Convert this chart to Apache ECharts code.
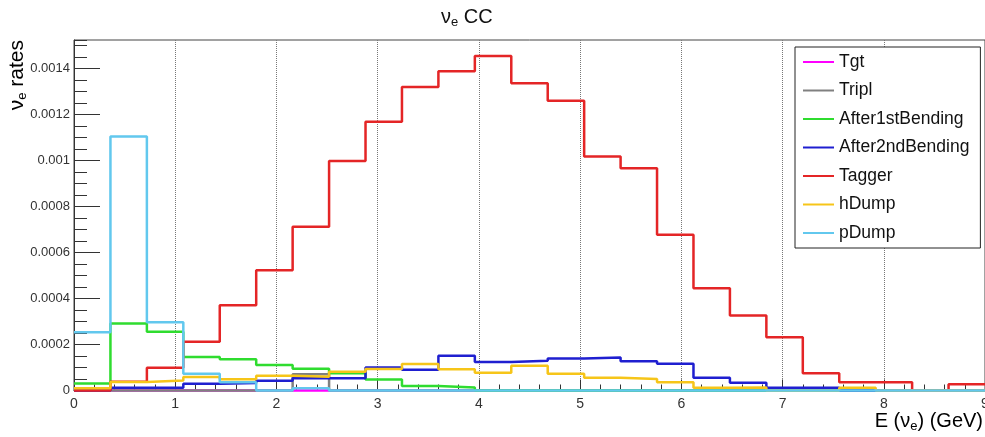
<!DOCTYPE html>
<html>
<head>
<meta charset="utf-8">
<script src="https://cdn.jsdelivr.net/npm/echarts@6/dist/echarts.min.js"></script>
<style>
  html, body { margin: 0; padding: 0; background: #fff; }
  #chart { width: 985px; height: 437px; }
</style>
</head>
<body>
<div id="chart"></div>
<script>
// Histogram binning: 25 bins of 0.36 GeV from 0 to 9 GeV
const binEdges = [0, 0.36, 0.72, 1.08, 1.44, 1.8, 2.16, 2.52, 2.88, 3.24, 3.6, 3.96, 4.32,
                  4.68, 5.04, 5.4, 5.76, 6.12, 6.48, 6.84, 7.2, 7.56, 7.92, 8.28, 8.64, 9.0];

const xTickLabels = ['0', '1', '2', '3', '4', '5', '6', '7', '8', '9'];
const yTickLabels = ['0', '0.0002', '0.0004', '0.0006', '0.0008', '0.001', '0.0012', '0.0014'];

const seriesNames = ['Tgt', 'Tripl', 'After1stBending', 'After2ndBending', 'Tagger', 'hDump', 'pDump'];
const seriesColors = ['#ff00ff', '#808080', '#2fdc2f', '#1f1fd0', '#e42526', '#f6c519', '#62c8ee'];

// nu_e CC rates per bin
const tgt = [0, 0, 0, 0, 0, 0, 0, 0, 0, 0, 0, 0, 0, 0, 0, 0, 0, 0, 0, 0, 0, 0, 0, 0, 0];
const tripl = [0, 0, 0, 0, 0, 0, 0.000071, 0, 0, 0, 0, 0, 0, 0, 0, 0, 0, 0, 0, 0, 0, 0, 0, 0, 0];
const after1stBending = [0.000031, 0.000292, 0.000256, 0.000146, 0.000136, 0.000111, 0.000095,
                         0.000075, 0.000048, 0.00002, 0.000013, 0, 0, 0, 0, 0, 0, 0, 0, 0, 0, 0, 0, 0, 0];
const after2ndBending = [0, 0.000012, 0.000012, 0.000029, 0.000033, 0.000042, 0.000053, 0.000053,
                         0.0001, 0.00009, 0.000151, 0.000124, 0.000129, 0.000139, 0.000144, 0.000127,
                         0.000116, 0.000056, 0.000034, 0.000012, 0.000012, 0, 0, 0, 0];
const tagger = [0, 0.000038, 0.000099, 0.000212, 0.000371, 0.000523, 0.000713, 0.000999, 0.001169,
                0.001321, 0.001389, 0.001455, 0.001337, 0.001261, 0.001018, 0.000967, 0.000678,
                0.000445, 0.000326, 0.000232, 0.000075, 0.000036, 0.000036, 0, 0.000027];
const hDump = [0.00001, 0.000037, 0.000043, 0.000059, 0.000049, 0.000064, 0.00006, 0.000082, 0.000094,
               0.000115, 0.000092, 0.000077, 0.000108, 0.000073, 0.000055, 0.00005, 0.000036, 0.000012,
               0.000013, 0, 0, 0.000012, 0, 0, 0];
const pDump = [0.000253, 0.001105, 0.000297, 0.000073, 0.000036, 0, 0.00001, 0, 0, 0, 0, 0, 0, 0, 0,
               0, 0, 0, 0, 0, 0, 0, 0, 0, 0];

const seriesValues = [tgt, tripl, after1stBending, after2ndBending, tagger, hDump, pDump];

const Y_MAX = 0.001525;
const FONT = 'Liberation Sans, Arial, Helvetica, sans-serif';

// step outline: one point per lower bin edge plus the closing upper edge
function histPoints(values) {
  const pts = values.map((v, i) => [binEdges[i], v]);
  pts.push([binEdges[binEdges.length - 1], values[values.length - 1]]);
  return pts;
}

const subRich = {
  n: { fontSize: 20, fontFamily: FONT, fontWeight: 'normal', color: '#111', lineHeight: 24 },
  s: { fontSize: 13, fontFamily: FONT, fontWeight: 'normal', color: '#111', lineHeight: 24, padding: [10, 0, 0, 0] }
};

const chart = echarts.init(document.getElementById('chart'), null, { renderer: 'canvas' });

chart.setOption({
  animation: false,
  backgroundColor: '#fff',
  textStyle: { fontFamily: FONT },
  title: {
    text: '{n|ν}{s|e}{n| CC}',
    left: 436,
    top: 0,
    textStyle: { fontWeight: 'normal', rich: subRich }
  },
  grid: {
    left: 74, right: 0, top: 40, bottom: 46.5,
    outerBoundsMode: 'none',
    containLabel: false,
    show: true, borderColor: '#444', borderWidth: 1, backgroundColor: 'transparent'
  },
  legend: {
    orient: 'vertical',
    left: 795,
    top: 47,
    icon: 'rect',
    itemWidth: 31,
    itemHeight: 2,
    itemGap: 8.5,
    padding: [5, 11, 5, 8],
    backgroundColor: '#fff',
    borderColor: '#222',
    borderWidth: 1,
    selectedMode: false,
    textStyle: { fontSize: 17.5, fontFamily: FONT, color: '#111', lineHeight: 20 },
    data: seriesNames
  },
  xAxis: {
    type: 'value',
    min: 0,
    max: 9,
    interval: 1,
    axisLine: { show: true, lineStyle: { color: '#333', width: 1 } },
    axisTick: { show: true, inside: true, length: 11, lineStyle: { color: '#333', width: 1 } },
    minorTick: { show: true, splitNumber: 5, length: 6, lineStyle: { color: '#333', width: 1 } },
    axisLabel: { fontSize: 14, color: '#333', margin: 7, formatter: v => xTickLabels[Math.round(v)] },
    splitLine: { show: true, lineStyle: { type: 'dotted', color: '#777', width: 1 } },
    minorSplitLine: { show: false }
  },
  yAxis: [
    {
      type: 'value',
      position: 'left',
      min: 0,
      max: Y_MAX,
      interval: 0.0002,
      axisLine: { show: true, lineStyle: { color: '#333', width: 1 } },
      axisTick: { show: true, inside: true, length: 26, lineStyle: { color: '#333', width: 1 } },
      axisLabel: {
        show: true, showMaxLabel: false, margin: 4, fontSize: 13, color: '#333',
        formatter: v => yTickLabels[Math.round(v / 0.0002)] ?? ''
      },
      splitLine: { show: false }
    },
    {
      // fine subdivisions of the rate axis
      type: 'value',
      position: 'left',
      min: 0,
      max: Y_MAX,
      interval: 0.00005,
      axisLine: { show: false },
      axisTick: { show: true, inside: true, length: 13, lineStyle: { color: '#333', width: 1 } },
      axisLabel: { show: false },
      splitLine: { show: false }
    }
  ],
  graphic: [
    {
      type: 'text',
      right: 2,
      top: 410,
      style: { text: '{n|E (ν}{s|e}{n|) (GeV)}', rich: subRich }
    },
    {
      type: 'text',
      x: 17,
      y: 40,
      rotation: Math.PI / 2,
      style: {
        text: '{n|ν}{s|e}{n| rates}',
        align: 'right',
        verticalAlign: 'middle',
        rich: {
          n: { fontSize: 21, fontFamily: FONT, color: '#111', lineHeight: 24 },
          s: { fontSize: 13, fontFamily: FONT, color: '#111', lineHeight: 24, padding: [10, 0, 0, 0] }
        }
      }
    }
  ],
  series: seriesNames.map((name, i) => ({
    name: name,
    type: 'line',
    step: 'end',
    symbol: 'none',
    clip: false,
    xAxisIndex: 0,
    yAxisIndex: 0,
    color: seriesColors[i],
    lineStyle: { color: seriesColors[i], width: 2.5 },
    data: histPoints(seriesValues[i])
  }))
});
</script>
</body>
</html>
